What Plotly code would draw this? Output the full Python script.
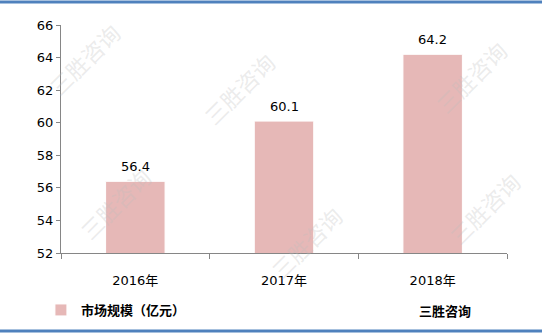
import plotly.graph_objects as go

categories = ["2016年", "2017年", "2018年"]
values = [56.4, 60.1, 64.2]
labels = ["56.4", "60.1", "64.2"]
series_name = "市场规模（亿元）"
source_text = "三胜咨询"
y_ticks = [52, 54, 56, 58, 60, 62, 64, 66]

FONT = "DejaVu Sans, Noto Sans CJK SC, sans-serif"

fig = go.Figure()
fig.add_trace(go.Bar(
    x=categories, y=values, name="<b>" + series_name + "</b>",
    marker=dict(color="#e6b8b7", line=dict(color="white", width=1)),
))

for c, v, t in zip(categories, values, labels):
    fig.add_annotation(x=c, y=v, text=t, showarrow=False, yanchor="bottom", yshift=5,
                       font=dict(size=13, color="#000000", family=FONT))

fig.update_layout(
    width=542, height=335,
    margin=dict(l=61, r=35, t=25, b=82, autoexpand=False),
    paper_bgcolor="white", plot_bgcolor="white",
    bargap=0.6,
    font=dict(family=FONT, size=13, color="#000000"),
    showlegend=True,
    legend=dict(orientation="h", x=-0.045, xanchor="left", y=-0.25, yanchor="middle",
                font=dict(size=13, family="Noto Sans CJK SC, sans-serif"),
                bgcolor="rgba(0,0,0,0)", itemwidth=30),
    xaxis=dict(showline=True, linecolor="#868686", linewidth=1,
               ticks="outside", ticklen=5, tickcolor="#868686", automargin=False,
               tickson="boundaries", showgrid=False, ticklabelstandoff=15,
               tickfont=dict(size=13, family=FONT)),
    yaxis=dict(range=[52, 66], tickvals=y_ticks, showline=True, automargin=False,
               linecolor="#868686", linewidth=1, ticks="outside", ticklen=4,
               tickcolor="#868686", showgrid=False, zeroline=False,
               tickfont=dict(size=13, family=FONT)),
)

fig.add_annotation(text="<b>" + source_text + "</b>", xref="paper", yref="paper",
                   x=0.86, y=-0.25, xanchor="center", yanchor="middle", showarrow=False,
                   font=dict(size=13, family="Noto Sans CJK SC, sans-serif", color="#000000"))

# watermarks
for (wx, wy) in [(-0.05, 1.05), (0.4, 0.92), (0.02, 0.02), (1.02, 0.97), (1.05, 0.0), (0.55, -0.15)]:
    fig.add_annotation(text="三胜咨询", xref="paper", yref="paper", x=wx, y=wy,
                       showarrow=False, textangle=-45,
                       font=dict(size=22, color="rgba(190,190,190,0.3)",
                                 family="Noto Sans CJK SC, sans-serif"))

# blue border lines
fig.add_shape(type="line", xref="paper", yref="paper", x0=-0.2, x1=1.2,
              y0=1 + 23 / 228, y1=1 + 23 / 228, line=dict(color="#4f81bd", width=3))
fig.add_shape(type="line", xref="paper", yref="paper", x0=-0.2, x1=1.2,
              y0=-78 / 228, y1=-78 / 228, line=dict(color="#4f81bd", width=3))

fig.write_html("out.html")
